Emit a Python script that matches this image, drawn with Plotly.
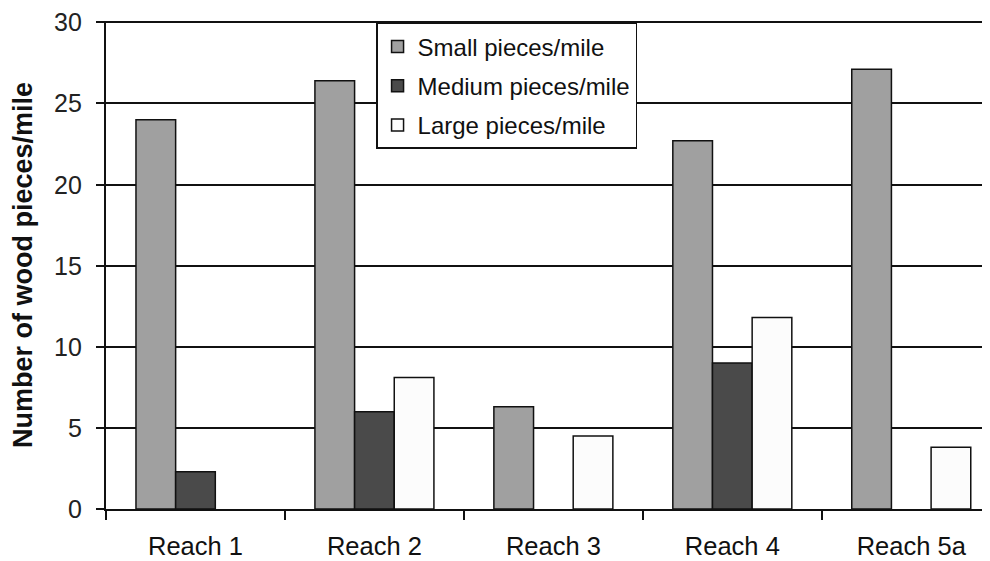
import plotly.graph_objects as go

categories = ["Reach 1", "Reach 2", "Reach 3", "Reach 4", "Reach 5a"]
small_pieces = [24.0, 26.4, 6.3, 22.7, 27.1]
medium_pieces = [2.3, 6.0, 0.0, 9.0, 0.0]
large_pieces = [0.0, 8.1, 4.5, 11.8, 3.8]
series_names = ["Small pieces/mile", "Medium pieces/mile", "Large pieces/mile"]
series_colors = ["#a0a0a0", "#4a4a4a", "#fcfcfc"]
y_ticks = [0, 5, 10, 15, 20, 25, 30]

FONT = "Liberation Sans, Arial, sans-serif"
INK = "#111111"

fig = go.Figure()
for i, (name, vals, col) in enumerate(zip(series_names,
                                          [small_pieces, medium_pieces, large_pieces],
                                          series_colors)):
    fig.add_trace(go.Bar(
        x=categories, y=[v if v > 0 else None for v in vals],
        name=name, legendgroup=f"g{i}",
        marker=dict(color=col, line=dict(color=INK, width=1.5)),
    ))

# y tick labels set a little further from the axis than plotly's default
for v in y_ticks:
    fig.add_annotation(
        x=0, xref="paper", y=v, yref="y", text=str(v), showarrow=False,
        xanchor="right", yanchor="middle", xshift=-22,
        font=dict(size=25, family=FONT, color="#222222"),
    )

# page body has an 8px margin: figure is sized so it ends at the window edge
fig.update_layout(
    width=982, height=553,
    margin=dict(l=98, r=0, t=13, b=52, autoexpand=False),
    paper_bgcolor="white", plot_bgcolor="white",
    barmode="group", bargap=0.335, bargroupgap=0,
    font=dict(family=FONT, color=INK),
    showlegend=True,
    legend=dict(
        x=0.3055, y=0.996, xanchor="left", yanchor="top",
        bordercolor=INK, borderwidth=1.5, bgcolor="white",
        font=dict(size=24, family=FONT, color=INK),
        tracegroupgap=5, itemwidth=30,
    ),
    xaxis=dict(
        range=[-0.5, 4.44], showline=True, linecolor=INK, linewidth=1.5,
        ticks="outside", tickson="boundaries", ticklen=9, tickcolor=INK,
        tickwidth=1.5, showgrid=False, ticklabelstandoff=14, automargin=False,
        tickfont=dict(size=25.5, family=FONT, color=INK),
    ),
    yaxis=dict(
        range=[0, 30.08], tickvals=y_ticks, showticklabels=False,
        showline=True, linecolor=INK, linewidth=1.5,
        ticks="outside", ticklen=8, tickcolor=INK, tickwidth=1.5,
        showgrid=True, gridcolor=INK, gridwidth=1.5, zeroline=False,
        automargin=False,
        title=dict(text="<b>Number of wood pieces/mile</b>",
                   font=dict(size=27, family=FONT, color=INK), standoff=56),
    ),
)

fig.write_html("out.html")
